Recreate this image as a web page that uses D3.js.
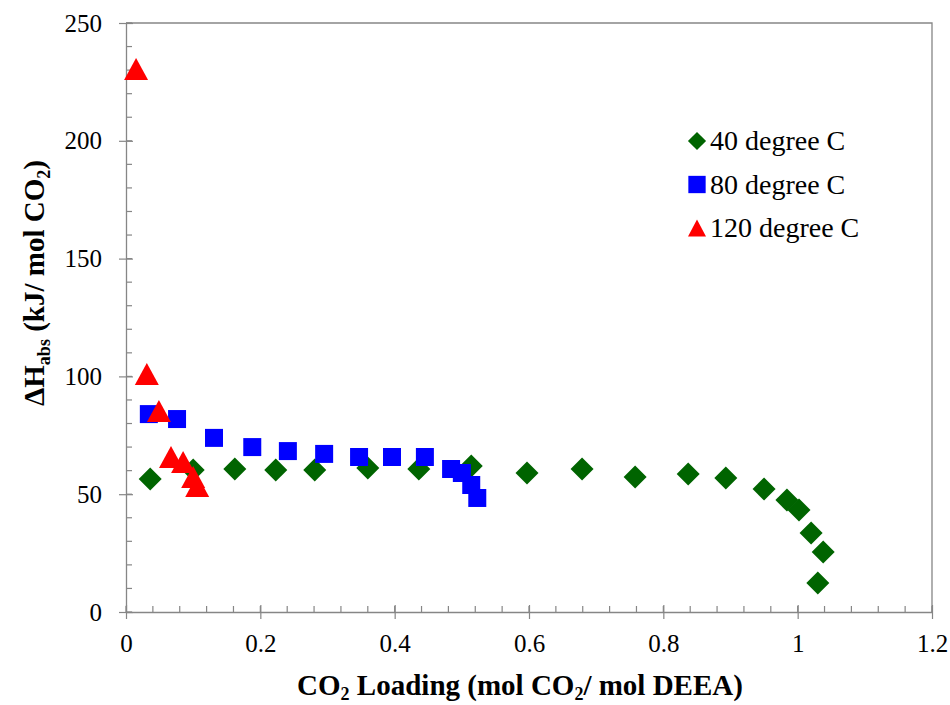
<!DOCTYPE html>
<html>
<head>
<meta charset="utf-8">
<script src="https://d3js.org/d3.v7.min.js"></script>
<style>
  body { margin: 0; background: #fff; }
</style>
</head>
<body>
<svg id="chart" width="950" height="705"></svg>
<script>
// 40 degree C
const load40 = [0.036, 0.100, 0.162, 0.223, 0.281, 0.360, 0.436, 0.514, 0.597, 0.679, 0.758, 0.837, 0.893, 0.950, 0.984, 1.002, 1.020, 1.038, 1.030];
const dh40 = [56.5, 60.3, 60.7, 60.3, 60.3, 61.1, 60.7, 62.0, 59.0, 60.7, 57.3, 58.6, 56.9, 52.2, 47.5, 43.3, 33.5, 25.5, 12.3];
// 80 degree C
const load80 = [0.034, 0.076, 0.131, 0.188, 0.241, 0.295, 0.347, 0.396, 0.445, 0.484, 0.500, 0.514, 0.523];
const dh80 = [84.0, 81.9, 73.9, 70.0, 68.3, 67.1, 65.8, 65.8, 65.8, 60.7, 59.0, 53.9, 48.4];
// 120 degree C
const load120 = [0.015, 0.031, 0.049, 0.067, 0.085, 0.100, 0.106];
const dh120 = [230.5, 101.0, 85.3, 65.8, 63.7, 57.3, 53.5];

const xTicks = [0, 0.2, 0.4, 0.6, 0.8, 1, 1.2];
const yTicks = [0, 50, 100, 150, 200, 250];
const seriesNames = ["40 degree C", "80 degree C", "120 degree C"];

const FONT = "Liberation Serif";

const svg = d3.select("#chart");
const margin = { left: 126, top: 23, right: 18, bottom: 93 };
const W = 950 - margin.left - margin.right;
const H = 705 - margin.top - margin.bottom;
const axisColor = "#868686";

const x = d3.scaleLinear().domain([0, 1.2]).range([0, W]);
const y = d3.scaleLinear().domain([0, 250]).range([H, 0]);

const g = svg.append("g").attr("transform", `translate(${margin.left},${margin.top})`);

// plot area border (top, right)
g.append("path")
  .attr("d", `M0,0H${W}V${H}`)
  .attr("fill", "none").attr("stroke", axisColor).attr("stroke-width", 1.3);

// minor ticks (inside)
const xMinor = d3.range(0, 1.2001, 0.04);
g.selectAll(".xminor").data(xMinor).enter().append("line")
  .attr("x1", d => x(d)).attr("x2", d => x(d))
  .attr("y1", H).attr("y2", H - 6)
  .attr("stroke", axisColor).attr("stroke-width", 1.2);
const yMinor = d3.range(0, 250.01, 10);
g.selectAll(".yminor").data(yMinor).enter().append("line")
  .attr("y1", d => y(d)).attr("y2", d => y(d))
  .attr("x1", 0).attr("x2", 6)
  .attr("stroke", axisColor).attr("stroke-width", 1.2);

// axes, major ticks cross the line
const xAxis = g.append("g").attr("transform", `translate(0,${H})`)
  .call(d3.axisBottom(x).tickValues(xTicks).tickFormat(d3.format("")).tickSize(7).tickSizeOuter(0).tickPadding(15));
const yAxis = g.append("g")
  .call(d3.axisLeft(y).tickValues(yTicks).tickSize(7).tickSizeOuter(0).tickPadding(17));

[xAxis, yAxis].forEach(a => {
  a.attr("font-family", FONT);
  a.select(".domain").attr("stroke", axisColor).attr("stroke-width", 1.3);
  a.selectAll(".tick line").attr("stroke", axisColor).attr("stroke-width", 1.2);
  a.selectAll(".tick text").attr("font-size", 25).attr("font-family", FONT).attr("fill", "#000");
});
xAxis.selectAll(".tick line").attr("y1", -7);
yAxis.selectAll(".tick line").attr("x1", 7);

// Excel-like triangle: wider than tall, centred on its box
const wideTriangle = (w, h) => ({
  draw(ctx) {
    ctx.moveTo(0, -h / 2);
    ctx.lineTo(w / 2, h / 2);
    ctx.lineTo(-w / 2, h / 2);
    ctx.closePath();
  }
});

const s40 = load40.map((v, i) => [v, dh40[i]]);
const s80 = load80.map((v, i) => [v, dh80[i]]);
const s120 = load120.map((v, i) => [v, dh120[i]]);

g.selectAll(".p40").data(s40).enter().append("path")
  .attr("d", d3.symbol().type(d3.symbolSquare).size(265))
  .attr("transform", d => `translate(${x(d[0])},${y(d[1])}) rotate(45)`)
  .attr("fill", "#006400");
g.selectAll(".p80").data(s80).enter().append("path")
  .attr("d", d3.symbol().type(d3.symbolSquare).size(324))
  .attr("transform", d => `translate(${x(d[0])},${y(d[1])})`)
  .attr("fill", "#0000ff");
g.selectAll(".p120").data(s120).enter().append("path")
  .attr("d", d3.symbol().type(wideTriangle(24, 22)))
  .attr("transform", d => `translate(${x(d[0])},${y(d[1])})`)
  .attr("fill", "#ff0000");

// legend
const legend = svg.append("g").attr("transform", "translate(697,141)");
const legMarks = [
  { d: d3.symbol().type(d3.symbolSquare).size(165)(), rot: 45, fill: "#006400" },
  { d: d3.symbol().type(d3.symbolSquare).size(300)(), rot: 0, fill: "#0000ff" },
  { d: d3.symbol().type(wideTriangle(18, 17))(), rot: 0, fill: "#ff0000" }
];
seriesNames.forEach((name, i) => {
  const row = legend.append("g").attr("transform", `translate(0,${i * 43.5})`);
  row.append("path").attr("d", legMarks[i].d)
    .attr("transform", `rotate(${legMarks[i].rot})`)
    .attr("fill", legMarks[i].fill);
  row.append("text").attr("x", 13).attr("y", 9)
    .attr("font-family", FONT).attr("font-size", 28).text(name);
});

// axis titles
const xt = svg.append("text")
  .attr("x", 520).attr("y", 695)
  .attr("text-anchor", "middle").attr("font-family", FONT)
  .attr("font-size", 29).attr("font-weight", "bold");
xt.append("tspan").text("CO");
xt.append("tspan").attr("dy", 5).attr("font-size", 18).text("2");
xt.append("tspan").attr("dy", -5).text(" Loading (mol CO");
xt.append("tspan").attr("dy", 5).attr("font-size", 18).text("2");
xt.append("tspan").attr("dy", -5).text("/ mol DEEA)");

const yt = svg.append("text")
  .attr("transform", "translate(44,283) rotate(-90)")
  .attr("text-anchor", "middle").attr("font-family", FONT)
  .attr("font-size", 29).attr("font-weight", "bold");
yt.append("tspan").text("ΔH");
yt.append("tspan").attr("dy", 6).attr("font-size", 18).text("abs");
yt.append("tspan").attr("dy", -6).text(" (kJ/ mol CO");
yt.append("tspan").attr("dy", 6).attr("font-size", 18).text("2");
yt.append("tspan").attr("dy", -6).text(")");
</script>
</body>
</html>
